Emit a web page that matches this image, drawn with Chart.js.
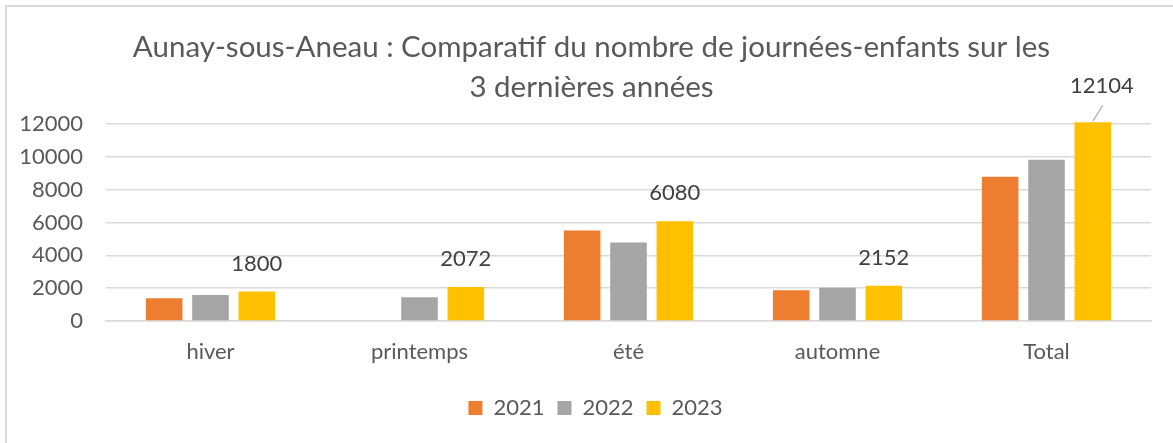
<!DOCTYPE html>
<html>
<head>
<meta charset="utf-8">
<script src="https://cdn.jsdelivr.net/npm/chart.js@4/dist/chart.umd.min.js"></script>
<style>
  html, body { margin: 0; padding: 0; background: #fff; }
  #frame { position: absolute; left: 5px; top: 5px; width: 1200px; height: 500px; border: 2px solid #d9d9d9; box-sizing: border-box; }
  #wrap { position: absolute; left: 0; top: 0; width: 1173px; height: 443px; }
</style>
</head>
<body>
<div id="frame"></div>
<div id="wrap"><canvas id="c" width="1173" height="443"></canvas></div>
<script>
const categories = ["hiver", "printemps", "été", "automne", "Total"];
const years = ["2021", "2022", "2023"];
const values2021 = [1380, null, 5520, 1880, 8780];
const values2022 = [1580, 1440, 4780, 2020, 9820];
const values2023 = [1800, 2072, 6080, 2152, 12104];
const yTicks = [0, 2000, 4000, 6000, 8000, 10000, 12000];
const titleLines = ["Aunay-sous-Aneau : Comparatif du nombre de journées-enfants sur les", "3 dernières années"];

const colors = ["#ED7D31", "#A5A5A5", "#FFC000"];
const FONT = "Lato, 'Open Sans', sans-serif";

const labelPlugin = {
  id: 'valueLabels',
  afterLayout(chart) {
    // nudge title and legend slightly right, as in the reference
    if (chart.titleBlock) { chart.titleBlock.left += 13; chart.titleBlock.right += 13; }
    if (chart.legend) {
      chart.legend.left += 17; chart.legend.right += 17;
      (chart.legend.legendHitBoxes || []).forEach(h => { h.left += 17; });
    }
  },
  afterDatasetsDraw(chart) {
    const ctx = chart.ctx;
    const dsIndex = 2;
    const meta = chart.getDatasetMeta(dsIndex);
    const data = chart.data.datasets[dsIndex].data;
    ctx.save();
    ctx.font = "22px " + FONT;
    ctx.fillStyle = "#404040";
    ctx.textAlign = "center";
    ctx.textBaseline = "middle";
    meta.data.forEach((bar, i) => {
      const v = data[i];
      if (v == null) return;
      let x = bar.x, y = bar.y - 28;
      if (y - 10 < chart.chartArea.top) {
        const lx = x + 9, ly = bar.y - 36;
        ctx.strokeStyle = "#a6a6a6";
        ctx.lineWidth = 1.2;
        ctx.beginPath();
        ctx.moveTo(bar.x, bar.y - 1);
        ctx.lineTo(lx + 1, ly + 19);
        ctx.stroke();
        x = lx; y = ly;
      }
      ctx.fillText(String(v), x, y);
    });
    ctx.restore();
  }
};

new Chart(document.getElementById('c'), {
  type: 'bar',
  data: {
    labels: categories,
    datasets: [
      { label: years[0], data: values2021, backgroundColor: colors[0] },
      { label: years[1], data: values2022, backgroundColor: colors[1] },
      { label: years[2], data: values2023, backgroundColor: colors[2] }
    ].map(d => Object.assign(d, { barPercentage: 0.79, categoryPercentage: 0.665, clip: false }))
  },
  options: {
    responsive: false,
    animation: false,
    layout: { padding: { left: 6, right: 22, top: 0, bottom: 14 } },
    plugins: {
      title: {
        display: true,
        text: titleLines,
        color: "#595959",
        font: { family: FONT, size: 29.5, weight: 'normal', lineHeight: 1.356 },
        padding: { top: 27, bottom: 17 }
      },
      legend: {
        position: 'bottom',
        labels: {
          color: "#595959",
          font: { family: FONT, size: 22 },
          boxWidth: 14, boxHeight: 14,
          padding: 13
        }
      },
      tooltip: { enabled: false }
    },
    scales: {
      x: {
        grid: { display: false, drawTicks: false },
        border: { display: true, color: "#d9d9d9", width: 1.5 },
        ticks: { color: "#595959", font: { family: FONT, size: 22 }, padding: 18, maxRotation: 0 },
        afterFit(scale) { scale.height = 63; }
      },
      y: {
        min: 0, max: 12000,
        afterBuildTicks(scale) { scale.ticks = yTicks.map(v => ({ value: v })); },
        grid: { color: "#d9d9d9", lineWidth: 1.5, drawTicks: false },
        border: { display: false },
        ticks: { color: "#595959", font: { family: FONT, size: 22 }, padding: 23, callback: v => String(v) },
        afterFit(scale) { scale.width = 100; }
      }
    }
  },
  plugins: [labelPlugin]
});
</script>
</body>
</html>
